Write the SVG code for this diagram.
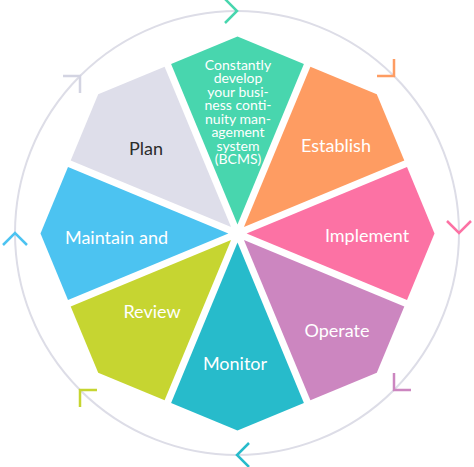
<svg xmlns="http://www.w3.org/2000/svg" width="474" height="467" viewBox="0 0 474 467">
<defs>
<style>
.lbl{font-family:Lato,"Open Sans","Liberation Sans",sans-serif;font-size:18px;fill:#fff;text-anchor:middle}
.small{font-family:Lato,"Open Sans","Liberation Sans",sans-serif;font-size:14px;fill:#fff;text-anchor:middle}
.chev{fill:none;stroke-width:2.5;stroke-linecap:butt;stroke-linejoin:miter}
</style>
<polygon id="slice" points="237.5,224.4 171.1,64 237.5,36.5 303.9,64"/>
<path id="chev" d="M-12,-12 L0,0 L-12,12"/>
</defs>
<g id="connectors">
<circle cx="237" cy="233" r="222" fill="none" stroke="#DDDDE7" stroke-width="2"/>
<use href="#chev" class="chev" stroke="#48D6AE" transform="translate(237,11) rotate(0)"/>
<use href="#chev" class="chev" stroke="#FE9C62" transform="translate(394,76) rotate(45)"/>
<use href="#chev" class="chev" stroke="#FC72A4" transform="translate(459,233) rotate(90)"/>
<use href="#chev" class="chev" stroke="#CC86C0" transform="translate(394,390) rotate(135)"/>
<use href="#chev" class="chev" stroke="#27BBCB" transform="translate(237,455) rotate(180)"/>
<use href="#chev" class="chev" stroke="#C6D531" transform="translate(80,390) rotate(225)"/>
<use href="#chev" class="chev" stroke="#4CC3F1" transform="translate(15,233) rotate(270)"/>
<use href="#chev" class="chev" stroke="#D3D4E2" transform="translate(80,76) rotate(315)"/>
</g>
<g id="bcms">
<use href="#slice" fill="#48D6AE"/>
<text class="small"><tspan x="238" y="69.5">Constantly</tspan><tspan x="238" y="83">develop</tspan><tspan x="238" y="96.5">your busi-</tspan><tspan x="238" y="110">ness conti-</tspan><tspan x="238" y="123.5">nuity man-</tspan><tspan x="238" y="137">agement</tspan><tspan x="238" y="150.5">system</tspan><tspan x="238" y="164">(BCMS)</tspan></text>
</g>
<g id="establish">
<use href="#slice" fill="#FE9C62" transform="rotate(45 237.5 233.5)"/>
<text class="lbl" x="336" y="152">Establish</text>
</g>
<g id="implement">
<use href="#slice" fill="#FC72A4" transform="rotate(90 237.5 233.5)"/>
<text class="lbl" x="367" y="242">Implement</text>
</g>
<g id="operate">
<use href="#slice" fill="#CC86C0" transform="rotate(135 237.5 233.5)"/>
<text class="lbl" x="337" y="337">Operate</text>
</g>
<g id="monitor">
<use href="#slice" fill="#27BBCB" transform="rotate(180 237.5 233.5)"/>
<text class="lbl" x="235" y="370">Monitor</text>
</g>
<g id="review">
<use href="#slice" fill="#C6D531" transform="rotate(225 237.5 233.5)"/>
<text class="lbl" x="152" y="318">Review</text>
</g>
<g id="maintain">
<use href="#slice" fill="#4CC3F1" transform="rotate(270 237.5 233.5)"/>
<text class="lbl" x="116.5" y="244">Maintain and</text>
</g>
<g id="plan">
<use href="#slice" fill="#DEDEEA" transform="rotate(315 237.5 233.5)"/>
<text class="lbl" x="146" y="155" style="fill:#2B2B2B">Plan</text>
</g>
</svg>
